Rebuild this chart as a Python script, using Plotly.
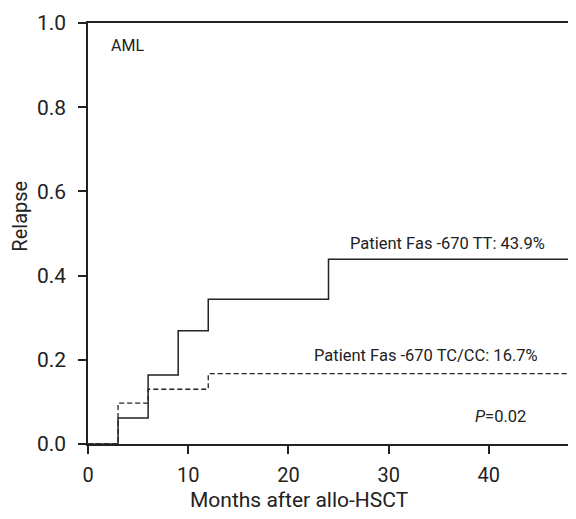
import plotly.graph_objects as go

# Data
tt_months = [0, 3, 3, 6, 6, 9, 9, 12, 12, 24, 24, 48]
tt_relapse = [0, 0, 0.062, 0.062, 0.164, 0.164, 0.269, 0.269, 0.344, 0.344, 0.439, 0.439]
tc_months = [0, 3, 3, 6, 6, 12, 12, 48]
tc_relapse = [0, 0, 0.097, 0.097, 0.130, 0.130, 0.167, 0.167]
x_ticks = [0, 10, 20, 30, 40]
y_ticks = [0.0, 0.2, 0.4, 0.6, 0.8, 1.0]

FONT = "Roboto"
INK = "#222222"

fig = go.Figure()
fig.add_trace(go.Scatter(x=tt_months, y=tt_relapse, mode="lines",
                         line=dict(color=INK, width=1.5), showlegend=False))
fig.add_trace(go.Scatter(x=tc_months, y=tc_relapse, mode="lines",
                         line=dict(color=INK, width=1.3, dash="5px,3px"), showlegend=False))

ann_font = dict(family=FONT, size=16.5, color=INK)
fig.add_annotation(x=45.77, y=0.439, xref="x", yref="y", text="Patient Fas -670 TT: 43.9%",
                   showarrow=False, xanchor="right", yanchor="middle", yshift=16, font=ann_font)
fig.add_annotation(x=45.07, y=0.167, xref="x", yref="y", text="Patient Fas -670 TC/CC: 16.7%",
                   showarrow=False, xanchor="right", yanchor="middle", yshift=18, font=ann_font)
fig.add_annotation(x=43.87, y=0.065, xref="x", yref="y", text="<i>P</i>=0.02",
                   showarrow=False, xanchor="right", yanchor="middle", font=ann_font)
fig.add_annotation(x=2.14, y=0.947, xref="x", yref="y", text="AML",
                   showarrow=False, xanchor="left", yanchor="middle",
                   font=dict(family=FONT, size=16, color=INK))

# axis titles
fig.add_annotation(x=0.4395, y=0, xref="paper", yref="paper", text="Months after allo-HSCT",
                   showarrow=False, xanchor="center", yanchor="middle", yshift=-56,
                   font=dict(family=FONT, size=21, color=INK))
fig.add_annotation(x=0, y=0.54, xref="paper", yref="paper", text="Relapse", textangle=-90,
                   showarrow=False, xanchor="center", yanchor="middle", xshift=-68,
                   font=dict(family=FONT, size=20, color=INK))

fig.update_xaxes(range=[0, 48], tickvals=x_ticks, ticks="outside", ticklen=8, tickwidth=1.5,
                 tickcolor=INK, showline=True, linecolor=INK, linewidth=1.5, mirror=True,
                 showgrid=False, zeroline=False, automargin=False, ticklabelstandoff=4,
                 tickfont=dict(family=FONT, size=20, color=INK))
fig.update_yaxes(range=[0, 1], tickvals=y_ticks, tickformat=".1f", ticks="outside", ticklen=8,
                 tickwidth=1.5, tickcolor=INK, showline=True, linecolor=INK, linewidth=1.5,
                 mirror=True, showgrid=False, zeroline=False, automargin=False,
                 ticklabelstandoff=8,
                 tickfont=dict(family=FONT, size=21, color=INK))

fig.update_layout(width=576, height=519, plot_bgcolor="white", paper_bgcolor="white",
                  margin=dict(l=80, r=15, t=15, b=83), showlegend=False)

fig.write_html("out.html")
